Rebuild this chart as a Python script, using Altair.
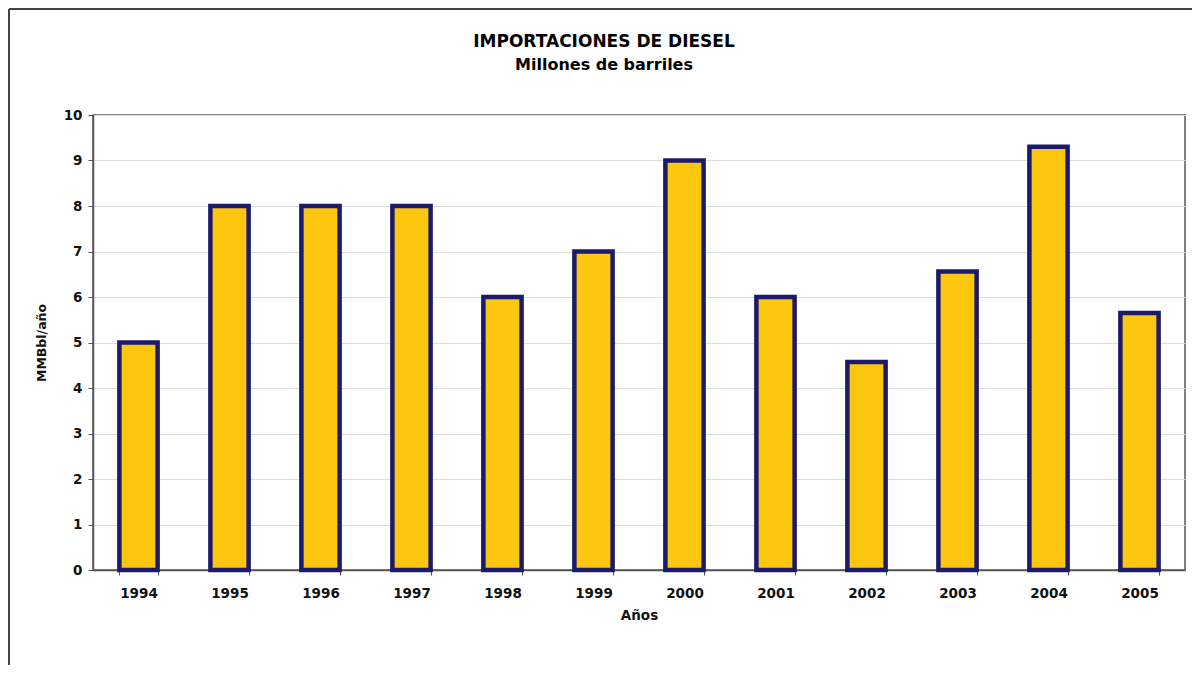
import altair as alt
import pandas as pd

years = ["1994", "1995", "1996", "1997", "1998", "1999", "2000", "2001", "2002", "2003", "2004", "2005"]
values = [5.0, 8.0, 8.0, 8.0, 6.0, 7.0, 9.0, 6.0, 4.57, 6.56, 9.3, 5.65]

df = pd.DataFrame({"year": years, "value": values})

FONT = "DejaVu Sans"
W, H = 1092, 455

bars = alt.Chart(df).mark_bar(
    color="#FCC70E", stroke="#1C1A6B", strokeWidth=4.5
).encode(
    x=alt.X("year:N", sort=years,
            scale=alt.Scale(paddingInner=0.58, paddingOuter=0.29),
            axis=alt.Axis(title="Años", labelAngle=0, labelFont=FONT, labelFontSize=13.5,
                          labelFontWeight="bold", labelColor="#111", labelPadding=11,
                          titleFont=FONT, titleFontSize=13.5, titleFontWeight="bold",
                          titleColor="#111", titlePadding=9, tickBand="extent",
                          tickSize=5, tickColor="#555", domainColor="#555", domainWidth=1.5)),
    y=alt.Y("value:Q", scale=alt.Scale(domain=[0, 10], nice=False),
            axis=alt.Axis(title="MMBbl/año", values=list(range(0, 11)), labelFont=FONT,
                          labelFontSize=13.5, labelFontWeight="bold", labelColor="#111",
                          labelPadding=6, titleFont=FONT, titleFontSize=12.5,
                          titleFontWeight="bold", titleColor="#111", titlePadding=15,
                          grid=True, gridColor="#dddddd", gridWidth=1,
                          tickSize=5, tickColor="#555", domainColor="#555", domainWidth=1.5))
)

title = alt.Chart(pd.DataFrame({"t": ["IMPORTACIONES DE DIESEL"]})).mark_text(
    font=FONT, fontSize=17, fontWeight="bold", color="#000", align="center", baseline="middle"
).encode(text="t:N", x=alt.value(511), y=alt.value(-73))

subtitle = alt.Chart(pd.DataFrame({"t": ["Millones de barriles"]})).mark_text(
    font=FONT, fontSize=16, fontWeight="bold", color="#000", align="center", baseline="middle"
).encode(text="t:N", x=alt.value(511), y=alt.value(-50))

frame_top = alt.Chart(pd.DataFrame({"a": [0]})).mark_rule(color="#444", strokeWidth=2).encode(
    x=alt.value(-84), x2=alt.value(1102), y=alt.value(-106))
frame_left = alt.Chart(pd.DataFrame({"a": [0]})).mark_rule(color="#444", strokeWidth=2).encode(
    x=alt.value(-84), y=alt.value(-106), y2=alt.value(550))

chart = alt.layer(frame_top, frame_left, bars, title, subtitle).properties(
    width=W, height=H,
    padding={"left": 85, "top": 107, "right": 7, "bottom": 95},
    autosize=alt.AutoSizeParams(type="none"),
    background="white"
).configure_view(stroke="#555", strokeWidth=1.5)

chart.save("out.html", embed_options={"renderer": "svg", "actions": False})
